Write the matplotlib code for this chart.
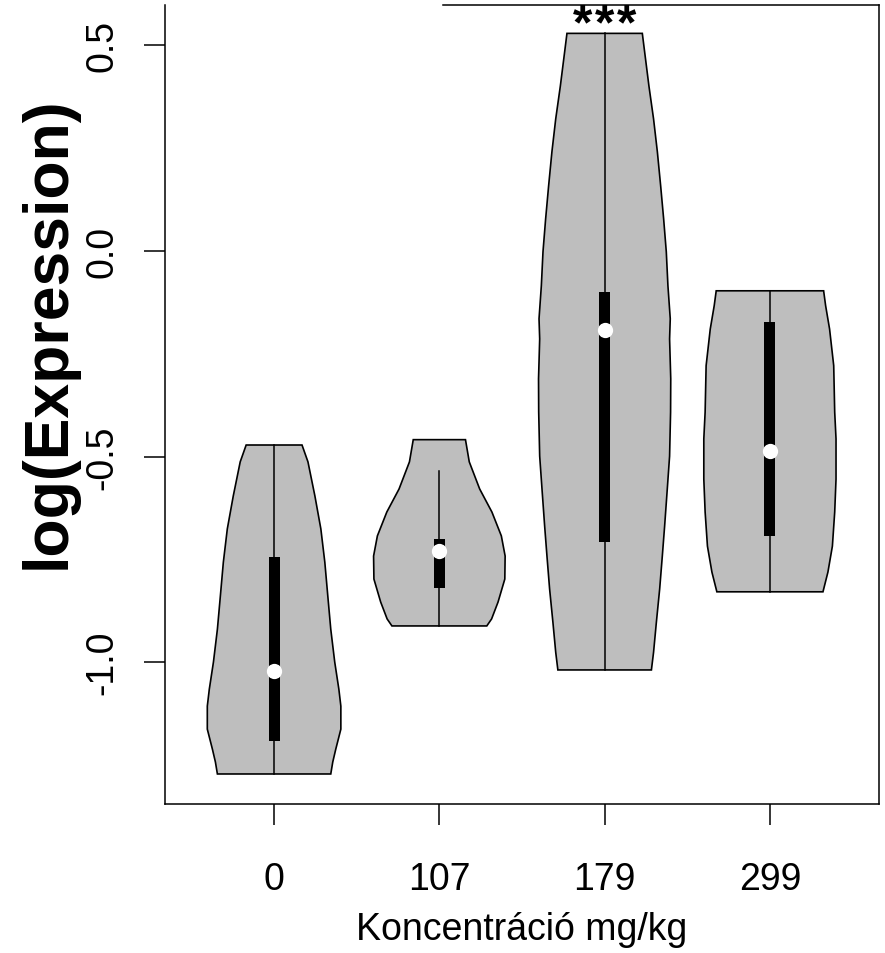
import numpy as np
import matplotlib
matplotlib.use("Agg")
import matplotlib.pyplot as plt

plt.rcParams['font.family'] = ['Liberation Sans', 'DejaVu Sans']

# ============ 数据 ============
groups = ["0", "107", "179", "299"]

# violin outlines: y values and half widths
v0_y = [-0.472, -0.513, -0.596, -0.676, -0.757, -0.839, -0.920, -1.000, -1.066, -1.107, -1.163, -1.212, -1.243, -1.272]
v0_w = [0.169, 0.205, 0.247, 0.283, 0.307, 0.325, 0.343, 0.367, 0.392, 0.404, 0.404, 0.373, 0.355, 0.343]

v1_y = [-0.459, -0.513, -0.579, -0.635, -0.693, -0.742, -0.798, -0.854, -0.895, -0.912]
v1_w = [0.158, 0.181, 0.244, 0.318, 0.375, 0.398, 0.396, 0.355, 0.316, 0.287]

v2_y = [0.529, 0.484, 0.401, 0.321, 0.241, 0.158, 0.078, -0.002, -0.085, -0.165, -0.214,
        -0.311, -0.392, -0.499, -0.579, -0.669, -0.742, -0.822, -0.903, -0.976, -1.019]
v2_w = [0.228, 0.242, 0.268, 0.296, 0.319, 0.339, 0.357, 0.373, 0.383, 0.397, 0.393,
        0.400, 0.399, 0.393, 0.379, 0.363, 0.349, 0.333, 0.313, 0.296, 0.283]

v3_y = [-0.097, -0.133, -0.190, -0.279, -0.392, -0.457, -0.555, -0.635, -0.718, -0.781, -0.829]
v3_w = [0.325, 0.337, 0.361, 0.386, 0.392, 0.400, 0.400, 0.392, 0.378, 0.351, 0.321]

# box stats
q1 = [-1.192, -0.820, -0.708, -0.694]
q3 = [-0.745, -0.700, -0.100, -0.173]
med = [-1.022, -0.730, -0.192, -0.486]
whisk_lo = [-1.272, -0.912, -1.019, -0.829]
whisk_hi = [-0.472, -0.535, 0.529, -0.097]

yticks = [-1.0, -0.5, 0.0, 0.5]
ytick_labels = ["-1.0", "-0.5", "0.0", "0.5"]

sig_group = 3
sig_label = "***"

outlines = [(v0_y, v0_w), (v1_y, v1_w), (v2_y, v2_w), (v3_y, v3_w)]

# ============ 绘图 ============
fig = plt.figure(figsize=(8.85, 9.54), dpi=100)
ax = fig.add_axes([165 / 885, 149 / 954, 714 / 885, 799 / 954])

for i, (ys, ws) in enumerate(outlines):
    pos = i + 1
    ys = np.array(ys)
    ws = np.array(ws)
    xs = np.concatenate([pos - ws, (pos + ws)[::-1]])
    yy = np.concatenate([ys, ys[::-1]])
    ax.fill(xs, yy, facecolor="#bebebe", edgecolor="black", linewidth=1.2, zorder=2)
    ax.plot([pos, pos], [whisk_lo[i], whisk_hi[i]], color="black", lw=1.1, zorder=3)
    ax.add_patch(plt.Rectangle((pos - 0.033, q1[i]), 0.066, q3[i] - q1[i],
                               facecolor="black", edgecolor="none", zorder=4))
    ax.plot(pos, med[i], "o", color="white", markersize=11, markeredgewidth=0, zorder=5)

# 显著性星号（每个单独放，间距更宽）
for k, ch in enumerate(sig_label):
    ax.text(sig_group + (k - 1) * 0.133, 0.517, ch, ha="center", va="baseline",
            fontsize=36, fontweight="bold")

ax.set_xlim(0.34, 4.66)
ax.set_ylim(-1.345, 0.598)

ax.set_xticks([1, 2, 3, 4])
ax.set_xticklabels(groups)
ax.set_yticks(yticks)
ax.set_yticklabels(ytick_labels, rotation=90, va="center", ha="right")

ax.tick_params(axis="both", length=15, width=1.1, labelsize=27)
ax.tick_params(axis="x", pad=26)
ax.tick_params(axis="y", pad=17)

for s in ["left", "bottom", "right"]:
    ax.spines[s].set_linewidth(1.1)
ax.spines["top"].set_visible(False)
# top border only partly visible
ax.plot([(443 - 165) / 714, 1], [1, 1], transform=ax.transAxes, color="black",
        lw=1.1, clip_on=False)

fig.text(522 / 885, 1 - 930 / 954, "Koncentráció mg/kg", ha="center", va="center", fontsize=27)
fig.text(48 / 885, 1 - 333 / 954, "log(Expression)", ha="center", va="center",
         rotation=90, fontsize=45, fontweight="bold")

fig.savefig("out.png", dpi=100)
